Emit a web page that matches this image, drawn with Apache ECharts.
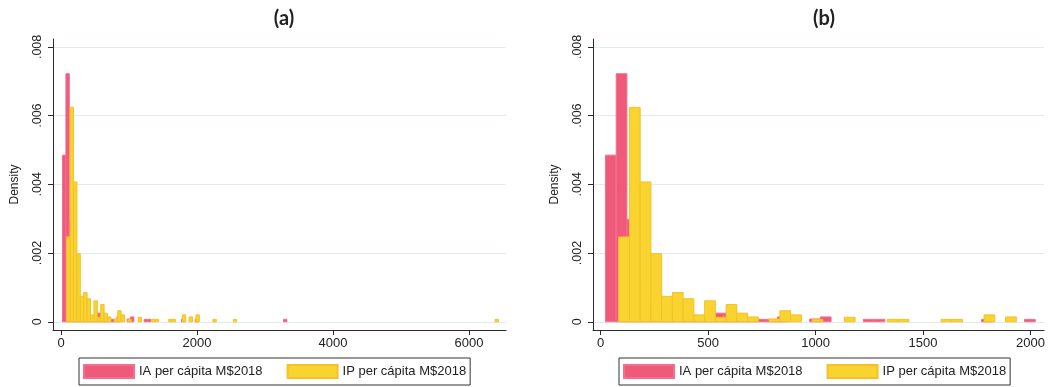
<!DOCTYPE html>
<html>
<head>
<meta charset="utf-8">
<script src="https://cdn.jsdelivr.net/npm/echarts@6/dist/echarts.min.js"></script>
<style>
html,body{margin:0;padding:0;background:#fff;}
#chart{width:1048px;height:387px;}
</style>
</head>
<body>
<div id="chart"></div>
<script>
// ---- data (histograms, density per bin of width 50) ----
const binWidth = 50;
const iaStart = 22;     // first bin left edge, IA
const ipStart = 83.7;   // first bin left edge, IP
// densities by bin index (shared by both panels)
const iaDensity = [0.00485, 0.00722, 0.00297, 0.0012, 0.0006, 0.0004, 0.0003, 0.0002, 0.00015, 0.0001,
                   0.00025, 0.00025, 0.0001, 0.0001, 0.00007, 0.00007, 0.00014, 0, 0, 0.00008,
                   0.00014, 0, 0, 0, 0.00007, 0.00007, 0, 0, 0, 0,
                   0, 0, 0, 0, 0, 0.00007, 0, 0, 0, 0.00007];
const ipDensity = [0.00247, 0.00624, 0.00407, 0.00198, 0.00074, 0.00085, 0.00067, 0.0002, 0.00061, 0.00013,
                   0.0005, 0.00025, 0.00014, 0, 0.00008, 0.00032, 0.0002, 0, 0.00007, 0,
                   0, 0.00013, 0, 0, 0, 0.00007, 0.00007, 0, 0, 0,
                   0.00007, 0.00007, 0, 0, 0.0002, 0, 0.00014];
// extra bins that only appear in panel (a) (full range): [bin index, density]
const iaExtraA = [[65, 0.00007]];
const ipExtraA = [[38, 0.0002], [43, 0.00007], [49, 0.00007], [126, 0.00007]];

const yTicks = [0, 0.002, 0.004, 0.006, 0.008];
const xTicksA = [0, 2000, 4000, 6000];
const xTicksB = [0, 500, 1000, 1500, 2000];
const titles = ['(a)', '(b)'];
const seriesNames = ['IA per cápita M$2018', 'IP per cápita M$2018'];

// ---- build ----
function bins(start, dens, extra) {
  const out = [];
  dens.forEach((d, k) => { if (d > 0) out.push([start + k * binWidth, start + (k + 1) * binWidth, d]); });
  (extra || []).forEach(([k, d]) => out.push([start + k * binWidth, start + (k + 1) * binWidth, d]));
  return out;
}
function renderItem(params, api) {
  const p0 = api.coord([api.value(0), api.value(2)]);
  const p1 = api.coord([api.value(1), 0]);
  return { type: 'rect', shape: { x: p0[0], y: p0[1], width: p1[0] - p0[0], height: p1[1] - p0[1] }, style: api.style() };
}
const PINK = '#EF5A7B', PINK_B = '#F2708E';
const YEL = '#F9D32F', YEL_B = '#F2C228';
const FONT = 'Liberation Sans';
const AX = '#2b2b2b';

function yAxisCfg(gi) {
  return {
    gridIndex: gi, type: 'value', min: -0.00024, max: 0.00823,
    axisLine: { show: true, onZero: false, lineStyle: { color: AX, width: 1 } },
    axisTick: { show: true, length: 5, customValues: yTicks, lineStyle: { color: AX } },
    axisLabel: { customValues: yTicks, rotate: 90, margin: 9, fontFamily: FONT, fontSize: 12.5, color: '#222',
      formatter: v => v === 0 ? '0' : v.toFixed(3).replace(/^0/, '') },
    splitLine: { show: true, lineStyle: { color: '#e3ecec', width: 1 } },
    name: 'Density', nameLocation: 'middle', nameGap: 32, nameRotate: 90,
    nameTextStyle: { fontFamily: FONT, fontSize: 12, color: '#222' }
  };
}
function xAxisCfg(gi, min, max, ticks) {
  return {
    gridIndex: gi, type: 'value', min: min, max: max,
    axisLine: { show: true, onZero: false, lineStyle: { color: AX, width: 1 } },
    axisTick: { show: true, length: 5, customValues: ticks, lineStyle: { color: AX } },
    axisLabel: { customValues: ticks, margin: 7, fontFamily: FONT, fontSize: 13, color: '#222',
      formatter: v => String(v) },
    splitLine: { show: false }
  };
}
function legendCfg(left) {
  return {
    left: left, top: 358, orient: 'horizontal', icon: 'rect', itemWidth: 50, itemHeight: 13, itemGap: 24,
    padding: [6, 4, 6, 4], borderColor: '#333', borderWidth: 1, selectedMode: false,
    textStyle: { fontFamily: FONT, fontSize: 13, color: '#222' },
    data: seriesNames
  };
}
function histSeries(name, xi, data, color, border, z) {
  return { type: 'custom', name: name, xAxisIndex: xi, yAxisIndex: xi, renderItem: renderItem,
    encode: { x: [0, 1], y: 2 }, data: data, z: z,
    itemStyle: { color: color, borderColor: border, borderWidth: 1 } };
}

const option = {
  animation: false,
  backgroundColor: '#fff',
  title: [
    { text: titles[0], left: 279, top: 4, textAlign: 'center', textStyle: { fontFamily: 'Lato', fontWeight: 'bold', fontSize: 20, color: '#222' } },
    { text: titles[1], left: 819, top: 4, textAlign: 'center', textStyle: { fontFamily: 'Lato', fontWeight: 'bold', fontSize: 20, color: '#222' } }
  ],
  grid: [
    { left: 53, right: 542, top: 39, bottom: 57 },
    { left: 593, right: 3, top: 39, bottom: 57 }
  ],
  xAxis: [ xAxisCfg(0, -118, 6544, xTicksA), xAxisCfg(1, -35.8, 2063, xTicksB) ],
  yAxis: [ yAxisCfg(0), yAxisCfg(1) ],
  legend: [ legendCfg(79), legendCfg(619) ],
  series: [
    histSeries(seriesNames[0], 0, bins(iaStart, iaDensity, iaExtraA), PINK, PINK_B, 2),
    histSeries(seriesNames[1], 0, bins(ipStart, ipDensity, ipExtraA), YEL, YEL_B, 3),
    histSeries(seriesNames[0], 1, bins(iaStart, iaDensity, []), PINK, PINK_B, 2),
    histSeries(seriesNames[1], 1, bins(ipStart, ipDensity, []), YEL, YEL_B, 3)
  ]
};
const chart = echarts.init(document.getElementById('chart'), null, { renderer: 'canvas' });
chart.setOption(option);
</script>
</body>
</html>
